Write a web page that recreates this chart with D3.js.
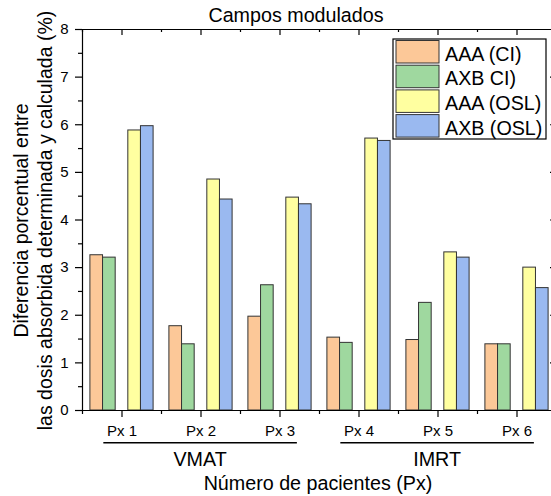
<!DOCTYPE html>
<html>
<head>
<meta charset="utf-8">
<script src="https://cdn.jsdelivr.net/npm/d3@7"></script>
<style>
  body { margin: 0; background: #fff; }
  svg text { font-family: "Liberation Sans", Arial, sans-serif; fill: #000; }
  .axis path, .axis line { stroke: #000; stroke-width: 1.2; }
</style>
</head>
<body>
<div id="chart"></div>
<script>
(function(d3) {
  'use strict';

  // data
  var patients = ['Px 1', 'Px 2', 'Px 3', 'Px 4', 'Px 5', 'Px 6'];
  var aaaCI  = [3.26, 1.77, 1.97, 1.53, 1.48, 1.39];
  var axbCI  = [3.21, 1.39, 2.63, 1.42, 2.26, 1.39];
  var aaaOSL = [5.88, 4.85, 4.47, 5.71, 3.32, 3.00];
  var axbOSL = [5.97, 4.43, 4.33, 5.66, 3.21, 2.57];
  var seriesNames = ['AAA (CI)', 'AXB CI)', 'AAA (OSL)', 'AXB (OSL)'];
  var groups = ['VMAT', 'IMRT'];
  var groupSpans = [[1, 3], [4, 6]];
  var yTicks = [0, 1, 2, 3, 4, 5, 6, 7, 8];

  var colors = ['#fcc898', '#9fd89f', '#ffffa0', '#9ab9f0'];
  var slots = [0, 1, 3, 4]; // middle slot left empty

  var width = 551, height = 496;
  var left = 82, right = 556, top = 29, bottom = 410;

  var series = [aaaCI, axbCI, aaaOSL, axbOSL].map(function(vals, i) {
    return { name: seriesNames[i], color: colors[i], slot: slots[i],
      values: vals.map(function(v, j) { return { px: j + 1, value: v }; }) };
  });

  var x = d3.scaleLinear().domain([0.5, 6.5]).range([left, right]);
  var y = d3.scaleLinear().domain([0, 8]).range([bottom, top]);
  var sub = d3.scaleBand().domain([0, 1, 2, 3, 4]).range([-0.4, 0.4]);

  var svg = d3.select('#chart').append('svg')
    .attr('width', width).attr('height', height);

  // bars
  var g = svg.append('g').attr('class', 'bars');
  series.forEach(function(s) {
    g.selectAll(null).data(s.values).enter().append('rect')
      .attr('x', function(d) { return x(d.px + sub(s.slot)); })
      .attr('width', x(1 + sub.bandwidth()) - x(1))
      .attr('y', function(d) { return y(d.value); })
      .attr('height', function(d) { return y(0) - y(d.value); })
      .attr('fill', s.color)
      .attr('stroke', '#333')
      .attr('stroke-width', 1);
  });

  var majorX = d3.range(1, 7);
  var minorX = d3.range(0.5, 7, 1);
  var minorY = d3.range(0.5, 8, 1);

  function plain(sel) { sel.selectAll('text').remove(); }
  function fixText(sel) {
    sel.attr('font-family', null).attr('font-size', null);
    sel.selectAll('text').style('font-size', '15px');
  }

  // minor ticks first, then major axes
  svg.append('g').attr('class', 'axis').attr('transform', 'translate(0,' + bottom + ')')
    .call(d3.axisBottom(x).tickValues(minorX).tickSize(4).tickSizeOuter(0)).call(plain)
    .select('.domain').remove();
  svg.append('g').attr('class', 'axis').attr('transform', 'translate(0,' + top + ')')
    .call(d3.axisTop(x).tickValues(minorX).tickSize(-3).tickSizeOuter(0)).call(plain)
    .select('.domain').remove();
  svg.append('g').attr('class', 'axis').attr('transform', 'translate(' + left + ',0)')
    .call(d3.axisLeft(y).tickValues(minorY).tickSize(4).tickSizeOuter(0)).call(plain)
    .select('.domain').remove();
  svg.append('g').attr('class', 'axis').attr('transform', 'translate(' + right + ',0)')
    .call(d3.axisRight(y).tickValues(minorY).tickSize(-3).tickSizeOuter(0)).call(plain)
    .select('.domain').remove();

  svg.append('g').attr('class', 'axis').attr('transform', 'translate(0,' + bottom + ')')
    .call(d3.axisBottom(x).tickValues(majorX).tickSize(7).tickSizeOuter(0).tickPadding(8.3)
      .tickFormat(function(d) { return patients[d - 1]; }))
    .call(fixText);

  svg.append('g').attr('class', 'axis').attr('transform', 'translate(0,' + top + ')')
    .call(d3.axisTop(x).tickValues(majorX).tickSize(-6).tickSizeOuter(0)).call(plain);

  svg.append('g').attr('class', 'axis').attr('transform', 'translate(' + left + ',0)')
    .call(d3.axisLeft(y).tickValues(yTicks).tickSize(7).tickSizeOuter(0).tickPadding(6.5))
    .call(fixText);

  svg.append('g').attr('class', 'axis').attr('transform', 'translate(' + right + ',0)')
    .call(d3.axisRight(y).tickValues(yTicks).tickSize(-6).tickSizeOuter(0)).call(plain);

  // group brackets under the tick labels
  groups.forEach(function(name, i) {
    var a = x(groupSpans[i][0] - 0.23), b = x(groupSpans[i][1] + 0.22);
    svg.append('line').attr('x1', a).attr('x2', b).attr('y1', 442.7).attr('y2', 442.7)
      .attr('stroke', '#000').attr('stroke-width', 1.4);
    svg.append('text').attr('x', (a + b) / 2).attr('y', 465.5)
      .attr('text-anchor', 'middle').style('font-size', '19.7px').text(name);
  });

  // titles
  svg.append('text').attr('x', 296).attr('y', 21.5).attr('text-anchor', 'middle')
    .style('font-size', '19.7px').text('Campos modulados');
  svg.append('text').attr('x', 318).attr('y', 490).attr('text-anchor', 'middle')
    .style('font-size', '19.7px').text('Número de pacientes (Px)');

  var yt = svg.append('text').attr('text-anchor', 'middle').style('font-size', '19.5px')
    .attr('transform', 'translate(0,' + ((top + bottom) / 2 + 1) + ') rotate(-90)');
  yt.append('tspan').attr('x', 0).attr('y', 27.5).text('Diferencia porcentual entre');
  yt.append('tspan').attr('x', 0).attr('y', 52).text('las dosis absorbida determinada y calculada (%)');

  // legend
  var legend = svg.append('g').attr('transform', 'translate(393,39)');
  legend.append('rect').attr('width', 153).attr('height', 100)
    .attr('fill', '#fff').attr('stroke', '#000').attr('stroke-width', 1.2);
  var item = legend.selectAll('.legend').data(series).enter().append('g')
    .attr('class', 'legend')
    .attr('transform', function(d, i) { return 'translate(3,' + (1.5 + i * 24.7) + ')'; });
  item.append('rect').attr('width', 43).attr('height', 22.5)
    .attr('fill', function(d) { return d.color; })
    .attr('stroke', '#333').attr('stroke-width', 1);
  item.append('text').attr('x', 49).attr('y', 20).style('font-size', '19.7px')
    .text(function(d) { return d.name; });

})(window.d3);
</script>
</body>
</html>
